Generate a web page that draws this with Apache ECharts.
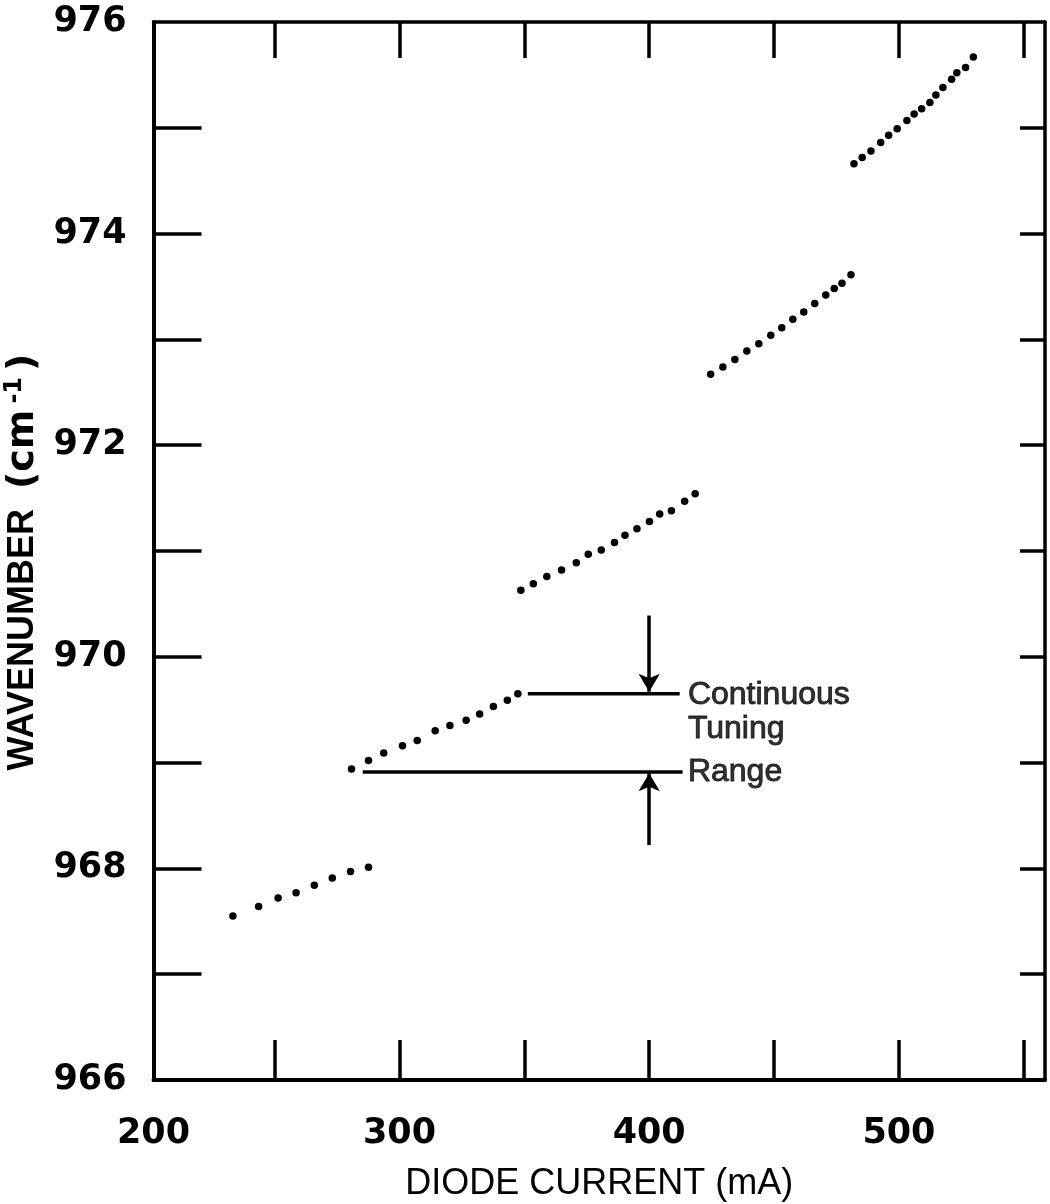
<!DOCTYPE html>
<html lang="en" style="height: 100%">
<head>
  <meta charset="utf-8">
</head>
<body style="height: 100%; margin: 0">
  <div id="container" style="width: 1050px; height: 1204px"></div>

  <script type="text/javascript" src="https://fastly.jsdelivr.net/npm/echarts@6.0.0/dist/echarts.min.js"></script>

  <script type="text/javascript">
    var dom = document.getElementById('container');
    var myChart = echarts.init(dom, null, { renderer: 'canvas' });

    // laser modes: diode current (mA) / wavenumber (cm-1), read dot by dot
    var mode1Current = [233.3, 243.6, 251.4, 258.6, 265.9, 273.1, 280.4, 287.6];
    var mode1Wave = [967.55, 967.64, 967.72, 967.77, 967.84, 967.91, 967.97, 968.01];

    var mode2Current = [280.8, 287.6, 293.7, 301.2, 307.1, 314.3, 320.2, 326.7, 332.1, 337.6, 343.2, 347.4];
    var mode2Wave = [968.94, 969.02, 969.09, 969.16, 969.21, 969.30, 969.35, 969.40, 969.46, 969.53, 969.59, 969.65];

    var mode3Current = [348.6, 353.6, 359.0, 364.9, 370.8, 375.6, 380.8, 386.1, 390.3, 395.1, 400.1, 404.2, 408.9, 414.2, 418.4];
    var mode3Wave = [970.63, 970.69, 970.76, 970.82, 970.89, 970.97, 971.01, 971.08, 971.15, 971.21, 971.28, 971.35, 971.38, 971.47, 971.54];

    var mode4Current = [424.6, 429.5, 434.3, 439.1, 443.9, 448.7, 453.1, 457.5, 461.9, 466.3, 470.7, 474.1, 477.2, 480.8];
    var mode4Wave = [972.67, 972.74, 972.81, 972.89, 972.96, 973.04, 973.11, 973.19, 973.26, 973.34, 973.42, 973.48, 973.53, 973.61];

    var mode5Current = [482.0, 485.3, 488.8, 492.7, 495.9, 499.3, 503.2, 506.1, 509.1, 512.4, 514.8, 517.6, 521.1, 523.2, 526.7, 529.8];
    var mode5Wave = [974.66, 974.72, 974.78, 974.86, 974.93, 974.99, 975.07, 975.13, 975.18, 975.24, 975.31, 975.38, 975.46, 975.52, 975.57, 975.67];

    // "continuous tuning range" marker
    var rangeTopCurrent = [351.4, 412.2];
    var rangeTopWave = 969.65;
    var rangeBottomCurrent = [285.3, 413.4];
    var rangeBottomWave = 968.91;
    var arrowCurrent = 400;
    var arrowDown = [970.39, 969.67];
    var arrowUp = [968.22, 968.90];
    var noteText = ['Continuous', 'Tuning', 'Range'];
    var noteCurrent = 415.5;
    var noteWave = [969.64, 969.32, 968.91];

    // axes
    var xMin = 201.5, xMax = 558.5;
    var xTickValues = [250, 300, 350, 400, 450, 500, 550];
    var xLabelValues = [201.5, 300, 400, 500];
    var xLabelText = ['200', '300', '400', '500'];
    var yMin = 966, yMax = 976;
    var yTickValues = [967, 968, 969, 970, 971, 972, 973, 974, 975];
    var yLabelValues = [966, 968, 970, 972, 974, 976];

    function pairs(xs, ys) {
      var res = [];
      for (var i = 0; i < xs.length; i++) res.push([xs[i], ys[i]]);
      return res;
    }

    var modes = [
      pairs(mode1Current, mode1Wave),
      pairs(mode2Current, mode2Wave),
      pairs(mode3Current, mode3Wave),
      pairs(mode4Current, mode4Wave),
      pairs(mode5Current, mode5Wave)
    ];

    var numFont = 'DejaVu Sans';
    var black = '#000';

    var series = modes.map(function (d) {
      return {
        type: 'scatter',
        data: d,
        symbol: 'circle',
        symbolSize: 7.5,
        itemStyle: { color: black, opacity: 1 },
        silent: true
      };
    });

    series.push({
      type: 'line',
      data: [[rangeTopCurrent[0], rangeTopWave], [rangeTopCurrent[1], rangeTopWave]],
      symbol: 'none',
      lineStyle: { color: black, width: 3.5 },
      silent: true
    });
    series.push({
      type: 'line',
      data: [[rangeBottomCurrent[0], rangeBottomWave], [rangeBottomCurrent[1], rangeBottomWave]],
      symbol: 'none',
      lineStyle: { color: black, width: 3.5 },
      silent: true,
      markLine: {
        silent: true,
        symbol: ['none', 'arrow'],
        symbolSize: [16, 18],
        label: { show: false },
        lineStyle: { color: black, width: 3.5, type: 'solid' },
        data: [
          [{ coord: [arrowCurrent, arrowDown[0]] }, { coord: [arrowCurrent, arrowDown[1]] }],
          [{ coord: [arrowCurrent, arrowUp[0]] }, { coord: [arrowCurrent, arrowUp[1]] }]
        ]
      }
    });
    series.push({
      type: 'scatter',
      symbolSize: 0,
      silent: true,
      data: noteText.map(function (t, i) {
        return { name: t, value: [noteCurrent, noteWave[i]] };
      }),
      label: {
        show: true,
        position: 'right',
        distance: 0,
        formatter: '{b}',
        color: black,
        fontFamily: 'Liberation Sans',
        fontSize: 32,
        textBorderColor: black,
        textBorderWidth: 0.9
      }
    });

    var tickStyle = { color: black, width: 3.5 };

    var option = {
      animation: false,
      backgroundColor: '#fff',
      grid: { left: 153.5, right: 5, top: 22, bottom: 124, outerBoundsMode: 'none', containLabel: false },
      xAxis: [
        {
          type: 'value',
          min: xMin,
          max: xMax,
          position: 'bottom',
          name: 'DIODE CURRENT (mA)',
          nameLocation: 'middle',
          nameGap: 86,
          nameTextStyle: { color: black, fontFamily: 'Liberation Sans', fontSize: 36 },
          axisLine: { onZero: false, lineStyle: { color: black, width: 4 } },
          axisTick: { inside: true, length: 40, customValues: xTickValues, lineStyle: tickStyle },
          axisLabel: {
            customValues: xLabelValues,
            margin: 36,
            color: black,
            fontFamily: numFont,
            fontWeight: 'bold',
            fontSize: 35,
            formatter: function (v) {
              return xLabelText[xLabelValues.indexOf(v)];
            }
          },
          splitLine: { show: false }
        },
        {
          type: 'value',
          min: xMin,
          max: xMax,
          position: 'top',
          axisLine: { onZero: false, lineStyle: { color: black, width: 3.5 } },
          axisTick: { inside: true, length: 36, customValues: xTickValues, lineStyle: tickStyle },
          axisLabel: { show: false },
          splitLine: { show: false }
        }
      ],
      yAxis: [
        {
          type: 'value',
          min: yMin,
          max: yMax,
          position: 'left',
          name: '{w|WAVENUMBER}  {p|(cm}{sup|-1}{p|)}',
          nameLocation: 'middle',
          nameGap: 96,
          nameTextStyle: {
            color: black,
            fontFamily: 'Liberation Sans',
            fontWeight: 'bold',
            fontSize: 36,
            padding: [0, 22, 0, 0],
            rich: {
              w: { fontFamily: 'Liberation Sans', fontWeight: 'bold', fontSize: 36, color: black },
              p: { fontFamily: numFont, fontWeight: 'bold', fontSize: 38, color: black },
              sup: {
                fontFamily: numFont,
                fontWeight: 'bold',
                fontSize: 24,
                color: black,
                padding: [0, 6, 18, 6]
              }
            }
          },
          axisLine: { onZero: false, lineStyle: { color: black, width: 4 } },
          axisTick: { inside: true, length: 48, customValues: yTickValues, lineStyle: tickStyle },
          axisLabel: {
            customValues: yLabelValues,
            margin: 27,
            color: black,
            fontFamily: numFont,
            fontWeight: 'bold',
            fontSize: 35
          },
          splitLine: { show: false }
        },
        {
          type: 'value',
          min: yMin,
          max: yMax,
          position: 'right',
          axisLine: { onZero: false, lineStyle: { color: black, width: 3.5 } },
          axisTick: { inside: true, length: 25, customValues: yTickValues, lineStyle: tickStyle },
          axisLabel: { show: false },
          splitLine: { show: false }
        }
      ],
      series: series
    };

    myChart.setOption(option);
    window.addEventListener('resize', myChart.resize);
  </script>
</body>
</html>
